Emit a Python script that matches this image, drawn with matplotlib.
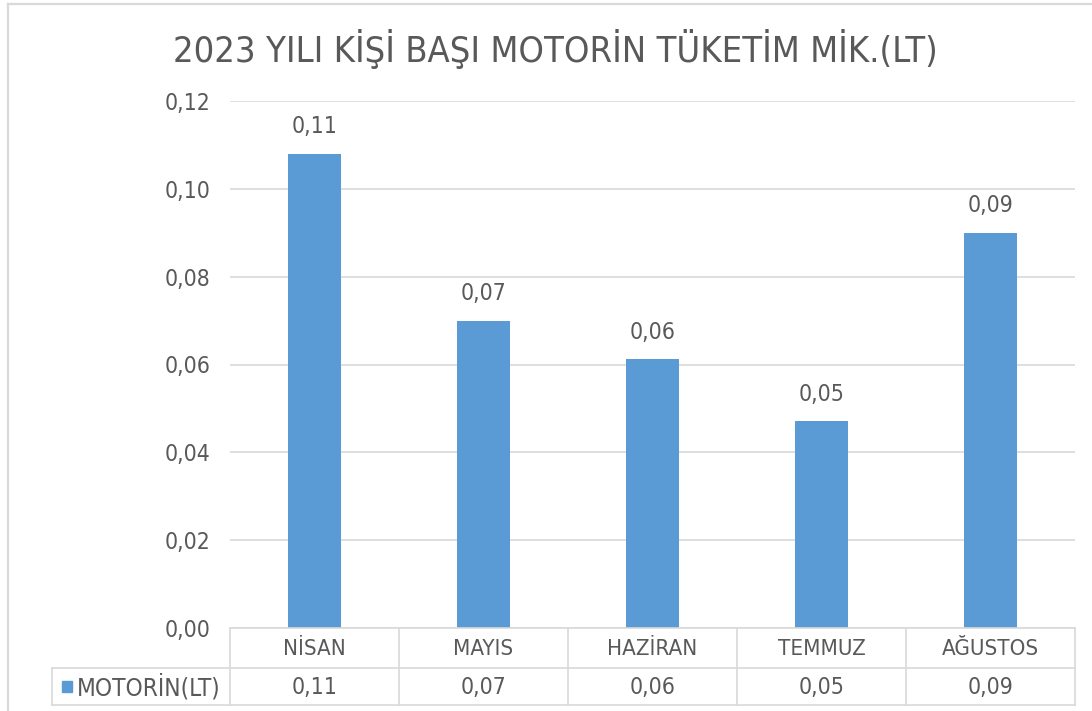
import matplotlib
matplotlib.use("Agg")
from matplotlib import pyplot as plt
from matplotlib.lines import Line2D
from matplotlib.patches import Rectangle

plt.rcParams["font.family"] = ["DejaVu Sans"]
plt.rcParams["font.stretch"] = "condensed"

categories = ["NİSAN", "MAYIS", "HAZİRAN", "TEMMUZ", "AĞUSTOS"]
values = [0.108, 0.070, 0.0612, 0.0471, 0.090]
value_labels = ["0,11", "0,07", "0,06", "0,05", "0,09"]
series_name = "MOTORİN(LT)"
y_ticks = [0.00, 0.02, 0.04, 0.06, 0.08, 0.10, 0.12]

bar_color = "#5B9BD5"
text_color = "#595959"
grid_color = "#D9D9D9"

W, H = 1092, 711
fig = plt.figure(figsize=(W / 100, H / 100), dpi=100)

# plot area in pixels
x0, x1 = 230, 1075
y_top, y_bot = 101, 628
ax = fig.add_axes([x0 / W, 1 - y_bot / H, (x1 - x0) / W, (y_bot - y_top) / H])

xs = list(range(len(categories)))
ax.bar(xs, values, width=0.31, color=bar_color, zorder=3)
ax.set_xlim(-0.5, len(categories) - 0.5)
ax.set_ylim(0, 0.12)
ax.set_yticks(y_ticks)
ax.set_yticklabels([f"{t:.2f}".replace(".", ",") for t in y_ticks],
                   fontsize=16.5, color=text_color)
ax.tick_params(axis="y", length=0, pad=14)
ax.set_xticks([])
for s in ax.spines.values():
    s.set_visible(False)
ax.grid(axis="y", color=grid_color, linewidth=1.2, zorder=0)

for x, v, lab in zip(xs, values, value_labels):
    ax.annotate(lab, (x, v), xytext=(0, 11), textcoords="offset points",
                ha="center", va="bottom", fontsize=16.5, color=text_color)

fig.text(555 / W, 1 - 49 / H, "2023 YILI KİŞİ BAŞI MOTORİN TÜKETİM MİK.(LT)",
         ha="center", va="center", fontsize=26, color=text_color)

# data table below the plot
def px(x, y):
    return x / W, 1 - y / H

row1, row2, row3 = 628, 668, 705
leg_left = 52
lines = [
    ((x0, row1), (x1, row1)),
    ((leg_left, row2), (x1, row2)),
    ((leg_left, row3), (x1, row3)),
    ((leg_left, row2), (leg_left, row3)),
]
col_w = (x1 - x0) / len(categories)
for i in range(len(categories) + 1):
    cx = x0 + i * col_w
    lines.append(((cx, row1), (cx, row3)))
for (a, b) in lines:
    (ax_, ay_), (bx_, by_) = px(*a), px(*b)
    fig.add_artist(Line2D([ax_, bx_], [ay_, by_], color=grid_color,
                          linewidth=1.2, transform=fig.transFigure))

for i, (cat, lab) in enumerate(zip(categories, value_labels)):
    cx = x0 + (i + 0.5) * col_w
    fig.text(*px(cx, (row1 + row2) / 2 + 1), cat, ha="center", va="center",
             fontsize=16, color=text_color)
    fig.text(*px(cx, (row2 + row3) / 2 + 1), lab, ha="center", va="center",
             fontsize=16.5, color=text_color)

mx, my = px(62, 692)
fig.add_artist(Rectangle((mx, my), 10 / W, 11 / H, color=bar_color,
                         transform=fig.transFigure))
fig.text(*px(77, (row2 + row3) / 2 + 1), series_name, ha="left", va="center",
         fontsize=17.5, color=text_color)

# chart outer border (only left and top edges are inside the picture)
bx, by = px(8, 4)
fig.add_artist(Line2D([bx, bx], [0, by], color=grid_color, linewidth=1.6,
                      transform=fig.transFigure))
fig.add_artist(Line2D([bx, 1], [by, by], color=grid_color, linewidth=1.6,
                      transform=fig.transFigure))

fig.savefig("out.png", dpi=100)
